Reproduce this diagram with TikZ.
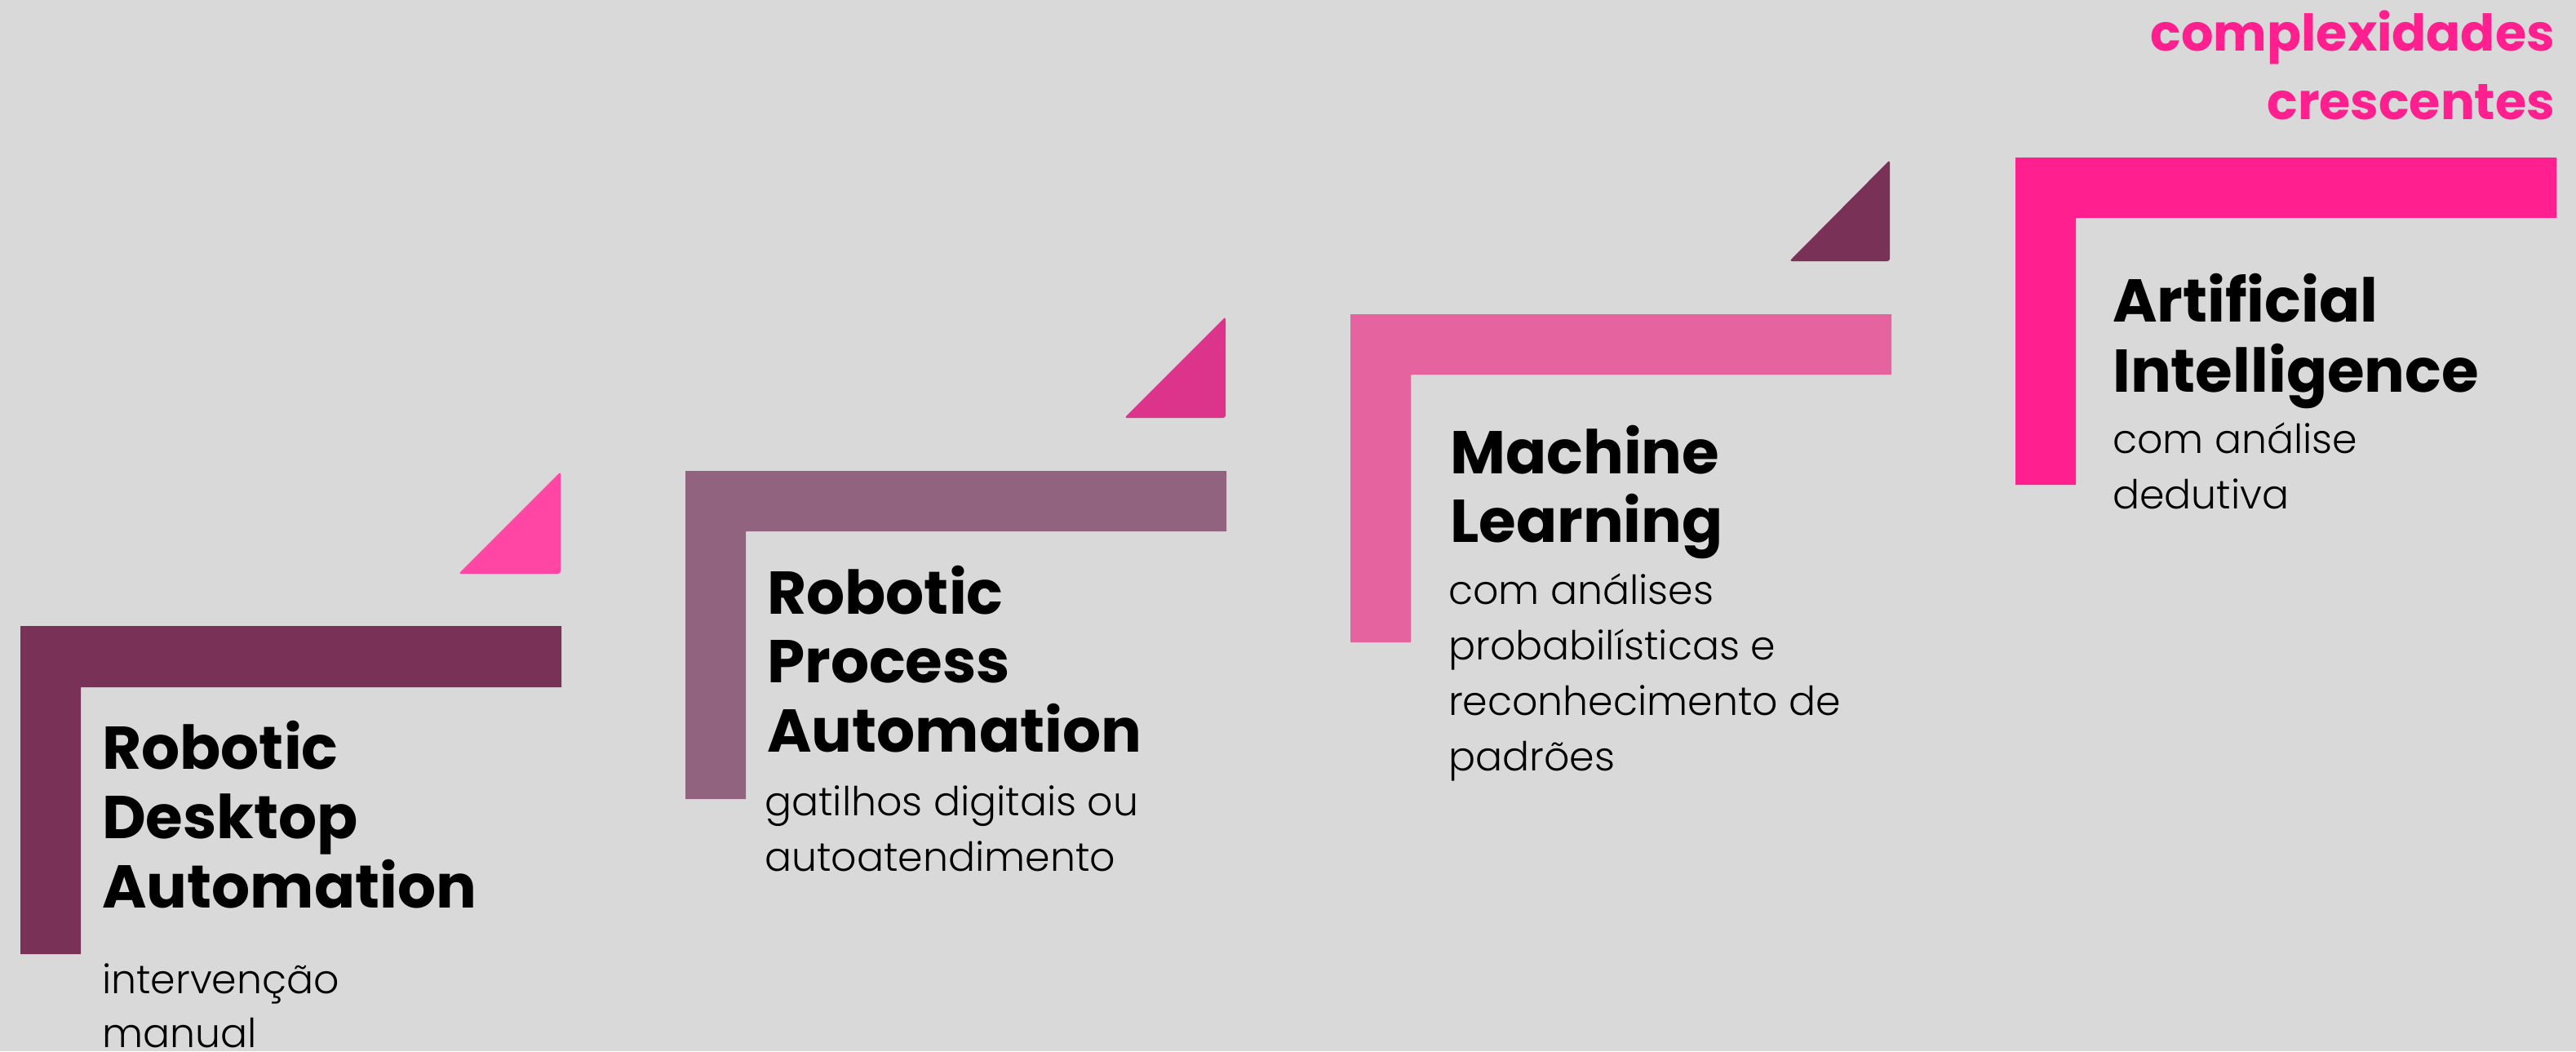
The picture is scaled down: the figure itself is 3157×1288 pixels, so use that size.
\documentclass[tikz,border=0pt]{standalone}
\usepackage{fontspec}
\newfontfamily\titlefont{Poppins Bold}
\newfontfamily\descfont{Poppins Light}
\definecolor{bgc}{HTML}{D9D9D9}
\definecolor{plum}{HTML}{7A3157}
\definecolor{mauve}{HTML}{91637E}
\definecolor{rose}{HTML}{E564A0}
\definecolor{hotpink}{HTML}{FF1F8F}
\definecolor{tripink}{HTML}{FF46A5}
\definecolor{trimag}{HTML}{DD348B}
\tikzset{
  ttl/.style={font=\titlefont\fontsize{74}{84}\selectfont, anchor=base west, inner sep=0pt, text=black},
  dsc/.style={font=\descfont\fontsize{49}{68}\selectfont, anchor=base west, inner sep=0pt, text=black},
  hd/.style={font=\titlefont\fontsize{62}{84}\selectfont, anchor=base east, inner sep=0pt, text=hotpink},
  tri/.style={rounded corners=3pt}
}
\begin{document}
\begin{tikzpicture}[x=1pt,y=-1pt]
\fill[bgc] (0,0) rectangle (3157,1288);
\useasboundingbox (0,0) rectangle (3157,1288);

% brackets
\fill[plum]    (25,767) -- (688,767) -- (688,842) -- (99,842) -- (99,1169) -- (25,1169) -- cycle;
\fill[mauve]   (840,577) -- (1503,577) -- (1503,651) -- (914,651) -- (914,979) -- (840,979) -- cycle;
\fill[rose]    (1655,385) -- (2318,385) -- (2318,459) -- (1729,459) -- (1729,787) -- (1655,787) -- cycle;
\fill[hotpink] (2470,193) -- (3133,193) -- (3133,267) -- (2544,267) -- (2544,594) -- (2470,594) -- cycle;

% triangles
\fill[tripink,tri] (562,703) -- (687,703) -- (687,578) -- cycle;
\fill[trimag,tri]  (1378,512) -- (1502,512) -- (1502,388) -- cycle;
\fill[plum,tri]    (2193,320) -- (2316,320) -- (2316,196) -- cycle;

% heading
\node[hd] (h1) at (3131,62) {complexidades};
\node[hd] (h2) at (3131,146) {crescentes};

% block 1
\node[ttl] (a1) at (125,942) {Robotic};
\node[ttl] (a2) at (125,1027) {Desktop};
\node[ttl] (a3) at (125,1112) {Automation};
\node[dsc] (a4) at (125,1217) {intervenção};
\node[dsc] (a5) at (125,1283) {manual};

% block 2
\node[ttl] (b1) at (940,752) {Robotic};
\node[ttl] (b2) at (940,836) {Process};
\node[ttl] (b3) at (940,921) {Automation};
\node[dsc] (b4) at (937,999) {gatilhos digitais ou};
\node[dsc] (b5) at (937,1067) {autoatendimento};

% block 3
\node[ttl] (c1) at (1777,580) {Machine};
\node[ttl] (c2) at (1777,664) {Learning};
\node[dsc] (c3) at (1775,740) {com análises};
\node[dsc] (c4) at (1775,808) {probabilísticas e};
\node[dsc] (c5) at (1775,876) {reconhecimento de};
\node[dsc] (c6) at (1775,944) {padrões};

% block 4
\node[ttl] (d1) at (2589,394) {Artificial};
\node[ttl] (d2) at (2589,480) {Intelligence};
\node[dsc] (d3) at (2589,555) {com análise};
\node[dsc] (d4) at (2589,623) {dedutiva};
\end{tikzpicture}
\end{document}
